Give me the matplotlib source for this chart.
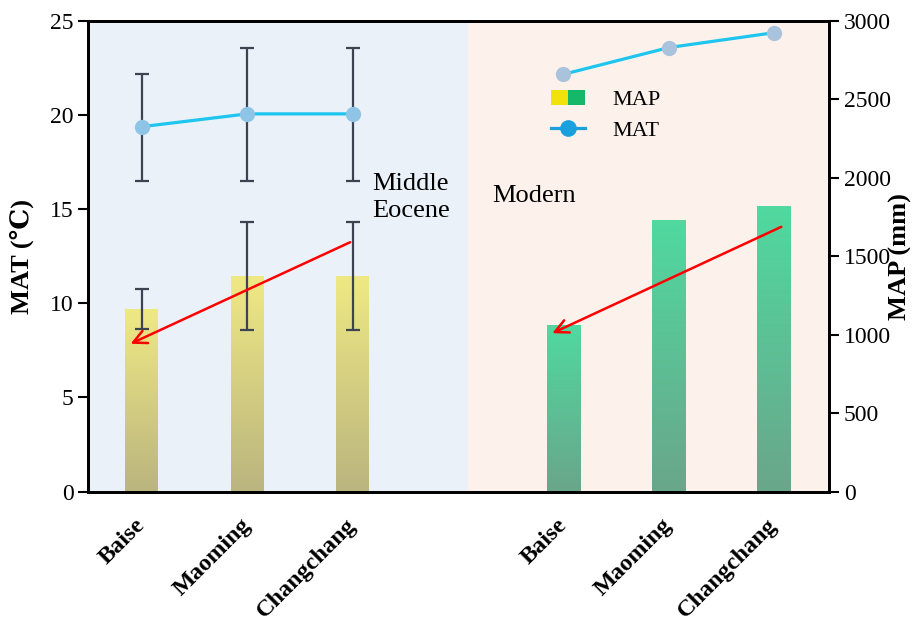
import matplotlib
matplotlib.use('Agg')
import matplotlib.pyplot as plt
import matplotlib.transforms as mtransforms
import numpy as np
from matplotlib.colors import LinearSegmentedColormap
from matplotlib.patches import Rectangle
from matplotlib.lines import Line2D
from matplotlib.legend_handler import HandlerTuple

# Site names, repeated for the two periods
sites = ['Baise', 'Maoming', 'Changchang']

# Mean annual temperature (deg C)
eocene_mat = [19.37, 20.05, 20.05]
eocene_mat_low = [16.49, 16.49, 16.49]
eocene_mat_high = [22.17, 23.53, 23.53]
modern_mat = [22.15, 23.57, 24.36]

# Mean annual precipitation (mm)
eocene_map = [1164, 1374, 1374]
eocene_map_err = [130, 345, 345]
modern_map = [1062, 1731, 1820]

plt.rcParams['font.family'] = ['Liberation Serif', 'DejaVu Serif']

x_eo = np.arange(len(sites))
x_mo = np.arange(len(sites)) + 4


def gradient_bars(axis, bars, top, bottom):
    cmap = LinearSegmentedColormap.from_list('bar_grad', [bottom, top])
    grad = np.linspace(0, 1, 256).reshape(-1, 1)
    for b in bars:
        x0, y0 = b.get_x(), b.get_y()
        w, h = b.get_width(), b.get_height()
        im = axis.imshow(grad, cmap=cmap, origin='lower', aspect='auto',
                         extent=[x0, x0 + w, y0, y0 + h], zorder=2)
        im.set_clip_path(b)


fig = plt.figure(figsize=(9.15, 6.24), dpi=100)
ax = fig.add_axes([0.0962, 0.212, 0.81, 0.755])
ax2 = ax.twinx()
ax.set_zorder(ax2.get_zorder() + 1)
ax.patch.set_visible(False)

# period backgrounds
ax2.axvspan(-0.51, 3.09, color='#ebf1f9', zorder=0, lw=0)
ax2.axvspan(3.09, 6.52, color='#fdf2eb', zorder=0, lw=0)

# MAP bars on the right axis
b1 = ax2.bar(x_eo, eocene_map, width=0.31, color='none', edgecolor='none', zorder=2)
b2 = ax2.bar(x_mo, modern_map, width=0.32, color='none', edgecolor='none', zorder=2)
gradient_bars(ax2, b1, '#efe984', '#bab47f')
gradient_bars(ax2, b2, '#50d9a0', '#6aa68a')
ax2.errorbar(x_eo, eocene_map, yerr=eocene_map_err, fmt='none', ecolor='#3d4350',
             elinewidth=1.6, capsize=5, capthick=1.6, zorder=3)

# MAT lines on the left axis
mat_err = [np.array(eocene_mat) - np.array(eocene_mat_low),
           np.array(eocene_mat_high) - np.array(eocene_mat)]
ax.errorbar(x_eo, eocene_mat, yerr=mat_err, fmt='none', ecolor='#3d4350',
            elinewidth=1.6, capsize=5, capthick=1.6, zorder=3)
ax.plot(x_eo, eocene_mat, color='#1ec5ee', lw=2.3, marker='o', ms=11,
        mfc='#8ec4e6', mec='none', zorder=4)
ax.plot(x_mo, modern_mat, color='#1ec5ee', lw=2.3, marker='o', ms=11,
        mfc='#a9c3dc', mec='none', zorder=4)

# trend arrows
ax.annotate('', xy=(-0.13, 7.79), xytext=(2.0, 13.3),
            arrowprops=dict(arrowstyle='->', color='red', lw=1.8, mutation_scale=24))
ax.annotate('', xy=(3.87, 8.35), xytext=(6.09, 14.12),
            arrowprops=dict(arrowstyle='->', color='red', lw=1.8, mutation_scale=24))

ax.text(2.19, 15.6, 'Middle\nEocene', fontsize=19, va='center', ha='left', linespacing=1.3)
ax.text(3.32, 15.68, 'Modern', fontsize=19, va='center', ha='left')

# axes
ax.set_xlim(-0.51, 6.52)
ax.set_ylim(0, 25)
ax.set_yticks(range(0, 26, 5))
ax2.set_ylim(0, 3000)
ax2.set_yticks(range(0, 3001, 500))
ax.set_xticks(list(x_eo) + list(x_mo))
ax.set_xticklabels(sites + sites, rotation=45, ha='right', va='center',
                   rotation_mode='anchor', fontweight='bold', fontsize=17.5)
shift = mtransforms.ScaledTranslation(-5 / 100, 0, fig.dpi_scale_trans)
for lbl in ax.get_xticklabels():
    lbl.set_transform(lbl.get_transform() + shift)
ax.tick_params(axis='x', length=0, pad=22)
ax.tick_params(axis='y', direction='out', length=7, width=1.5, labelsize=17)
ax2.tick_params(axis='y', direction='out', length=7, width=1.5, labelsize=17)
for sp in ax.spines.values():
    sp.set_linewidth(2)
for sp in ax2.spines.values():
    sp.set_linewidth(2)

ax.set_ylabel('MAT (℃)', fontsize=19, fontweight='bold')
ax.yaxis.set_label_coords(-0.073, 0.5)
ax2.set_ylabel('MAP (mm)', fontsize=19, fontweight='bold')
ax2.yaxis.set_label_coords(1.081, 0.5)

# legend
h_map = (Rectangle((0, 0), 1, 1, facecolor='#f0e20a', edgecolor='none'),
         Rectangle((0, 0), 1, 1, facecolor='#14b868', edgecolor='none'))
h_mat = Line2D([], [], color='#1aa0dc', lw=2.3, marker='o', ms=11)
ax.legend([h_map, h_mat], ['MAP', 'MAT'], handler_map={tuple: HandlerTuple(ndivide=None, pad=0)},
          loc='upper left', bbox_to_anchor=(0.625, 0.853), frameon=False, fontsize=16,
          borderpad=0, borderaxespad=0, handlelength=1.5, handletextpad=1.26,
          labelspacing=0.45)

fig.savefig('out.png', dpi=100)
